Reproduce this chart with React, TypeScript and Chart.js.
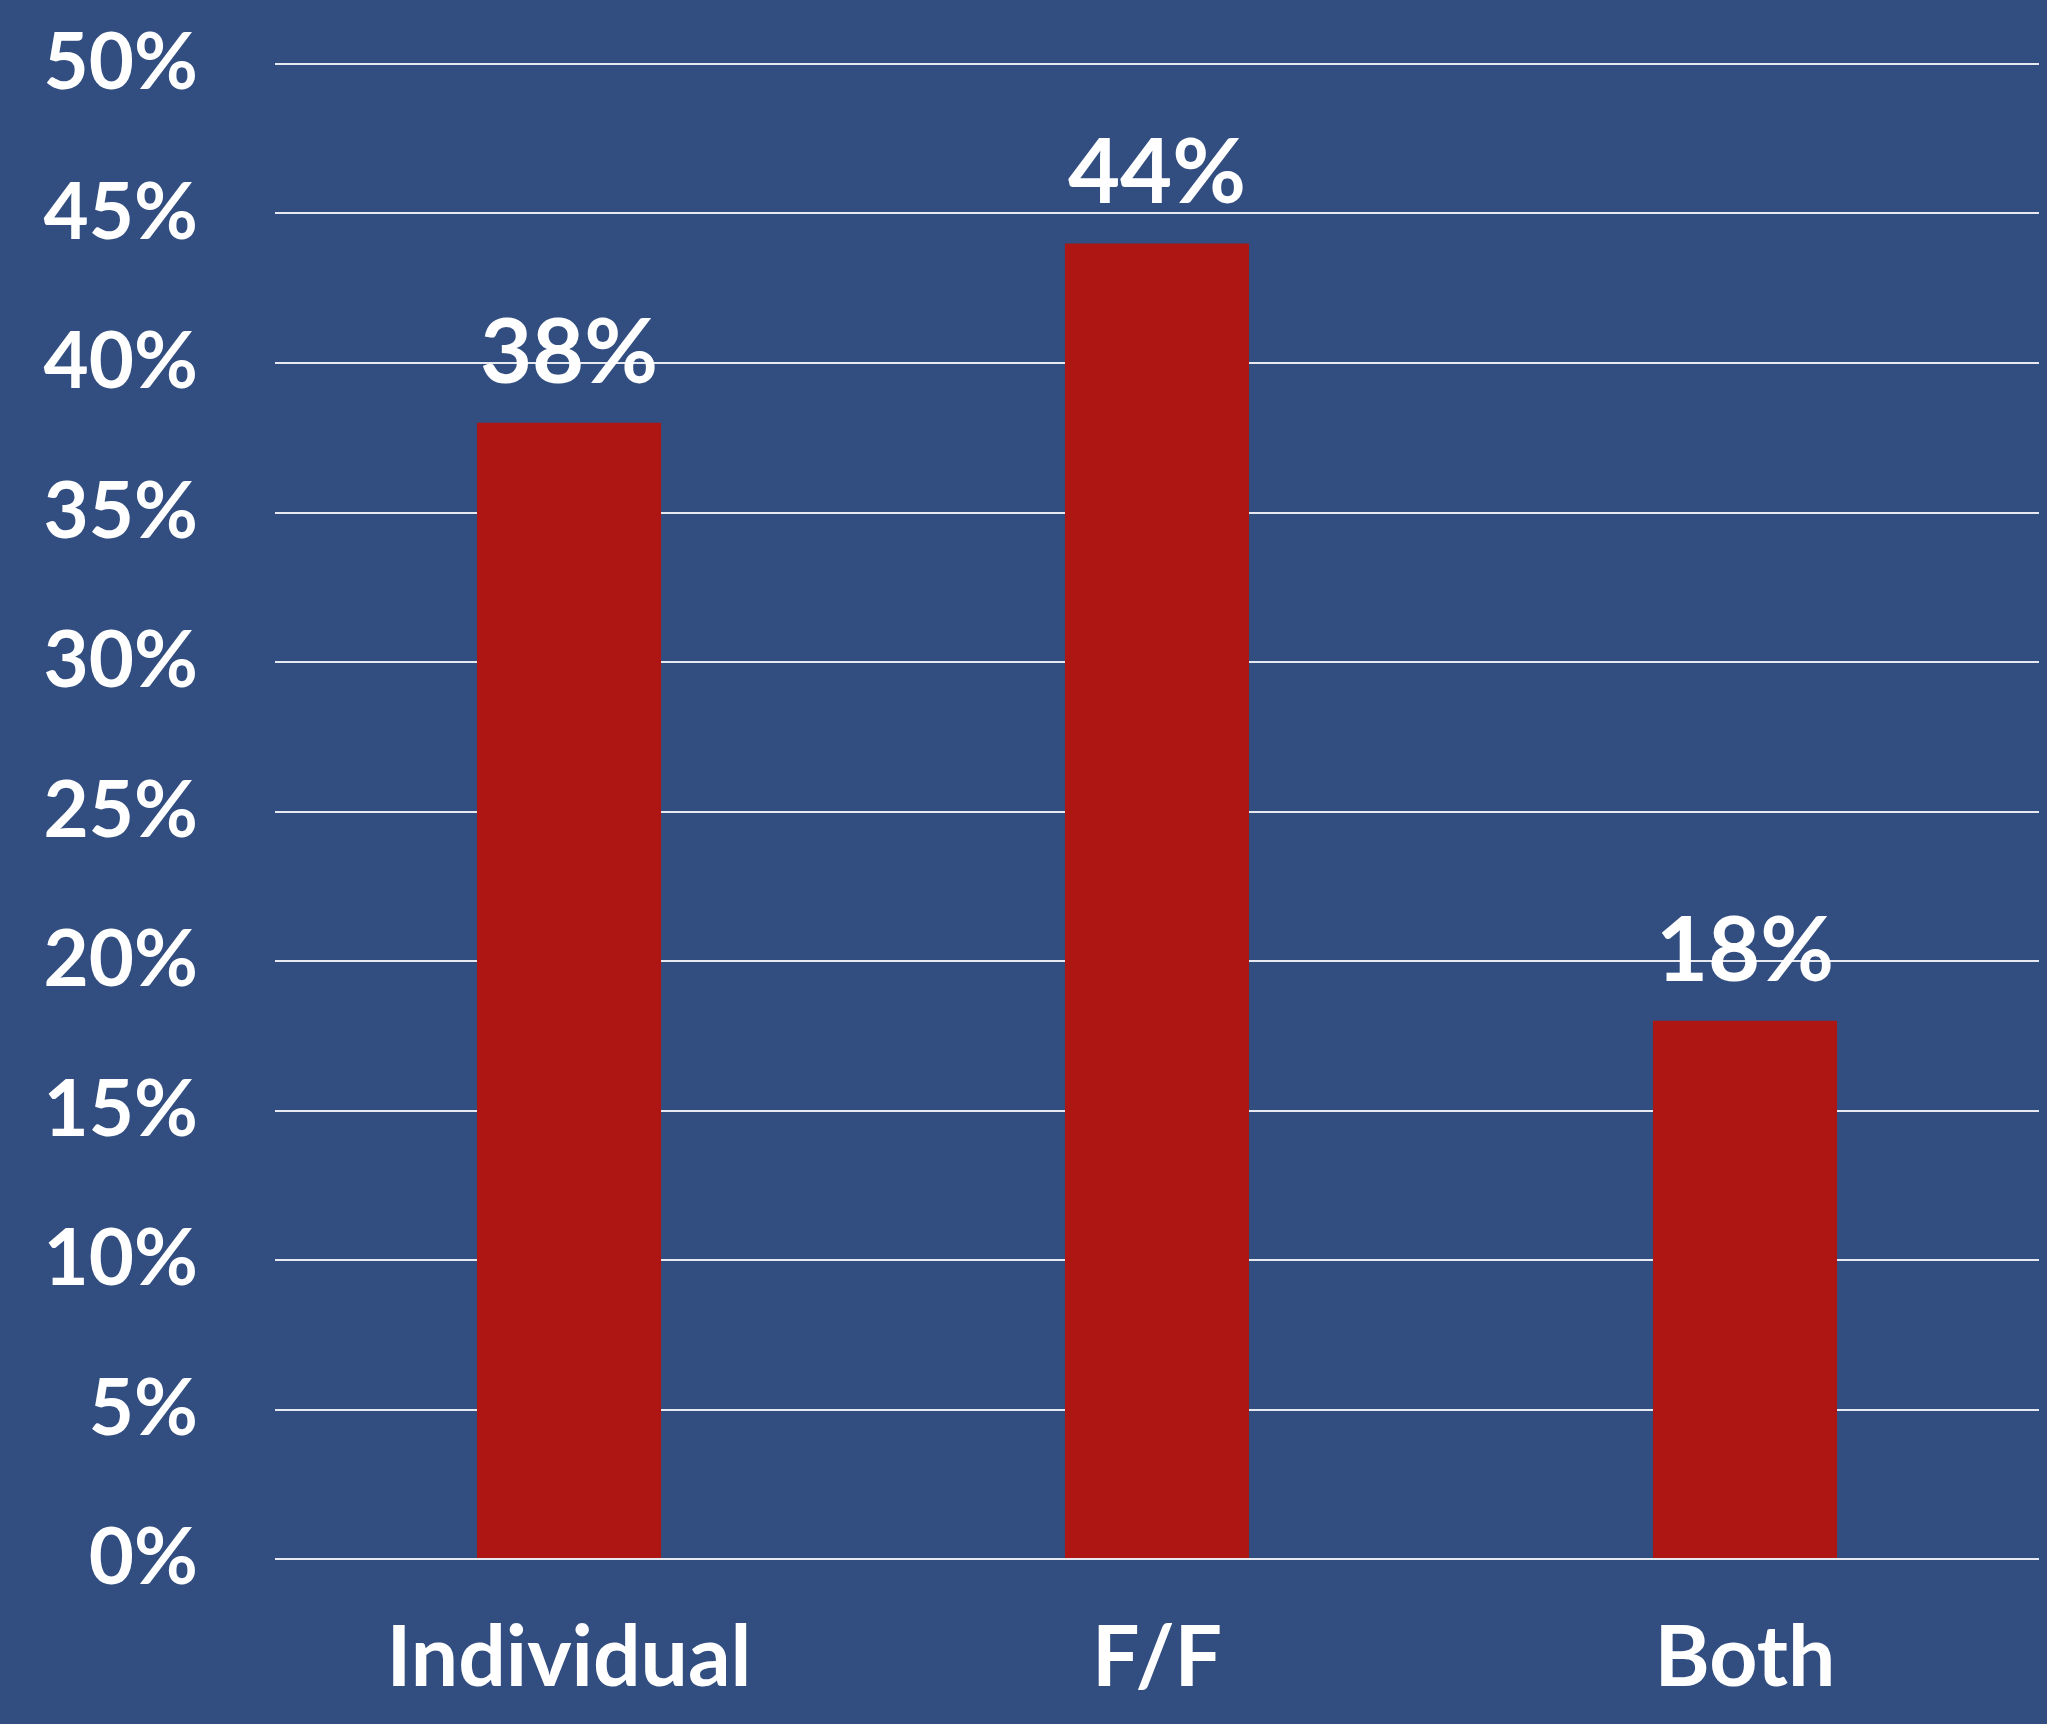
import React, { useEffect, useRef } from "react";
import { Chart, registerables } from "chart.js";

Chart.register(...registerables);

const categories = ["Individual", "F/F", "Both"];
const values = [38, 44, 18];
const yTicks = [0, 5, 10, 15, 20, 25, 30, 35, 40, 45, 50];

const BG = "#324E80";
const BAR = "#AE1614";
const FONT = "Lato, 'Noto Sans', sans-serif";

const valueLabels = {
  id: "valueLabels",
  afterDatasetsDraw(chart: any) {
    const ctx = chart.ctx;
    const meta = chart.getDatasetMeta(0);
    ctx.save();
    ctx.fillStyle = "#FFFFFF";
    ctx.font = `bold 90px ${FONT}`;
    ctx.textAlign = "center";
    ctx.textBaseline = "alphabetic";
    meta.data.forEach((bar: any, i: number) => {
      ctx.fillText(`${values[i]}%`, bar.x, bar.y - 40);
    });
    ctx.restore();
  },
};

const bgPlugin = {
  id: "bgFill",
  beforeDraw(chart: any) {
    const ctx = chart.ctx;
    ctx.save();
    ctx.fillStyle = BG;
    ctx.fillRect(0, 0, chart.width, chart.height);
    ctx.restore();
  },
};

export default function App() {
  const ref = useRef<HTMLCanvasElement | null>(null);

  useEffect(() => {
    document.body.style.margin = "0";
    document.body.style.background = BG;
    if (!ref.current) return;
    const chart = new Chart(ref.current, {
      type: "bar",
      data: {
        labels: categories,
        datasets: [
          {
            data: values,
            backgroundColor: BAR,
            borderWidth: 0,
            barPercentage: 0.313,
            categoryPercentage: 1,
          },
        ],
      },
      options: {
        animation: false,
        responsive: false,
        devicePixelRatio: 1,
        layout: { autoPadding: false, padding: { left: 0, right: 8, top: 64, bottom: 0 } },
        plugins: {
          legend: { display: false },
          tooltip: { enabled: false },
        },
        scales: {
          x: {
            grid: { display: false, drawTicks: false },
            border: { display: false },
            ticks: {
              color: "#FFFFFF",
              font: { family: FONT, size: 84, weight: "bold" },
              padding: 50,
            },
            afterFit(scale: any) {
              scale.height = 165;
              scale.paddingLeft = 0;
              scale.paddingRight = 0;
            },
          },
          y: {
            min: 0,
            max: 50,
            afterBuildTicks(scale: any) {
              scale.ticks = yTicks.map((v) => ({ value: v }));
            },
            grid: { color: "#E6E9F0", lineWidth: 2, drawTicks: false },
            border: { display: false },
            ticks: {
              color: "#FFFFFF",
              font: { family: FONT, size: 78, weight: "bold" },
              padding: 77,
              callback: (v: any) => `${v}%`,
            },
            afterFit(scale: any) {
              scale.width = 275;
              scale.paddingTop = 0;
              scale.paddingBottom = 0;
            },
          },
        },
      },
      plugins: [bgPlugin, valueLabels],
    });
    return () => chart.destroy();
  }, []);

  return (
    <div style={{ width: 2047, height: 1724, background: BG }}>
      <canvas ref={ref} width={2047} height={1724} style={{ display: "block" }} />
    </div>
  );
}
